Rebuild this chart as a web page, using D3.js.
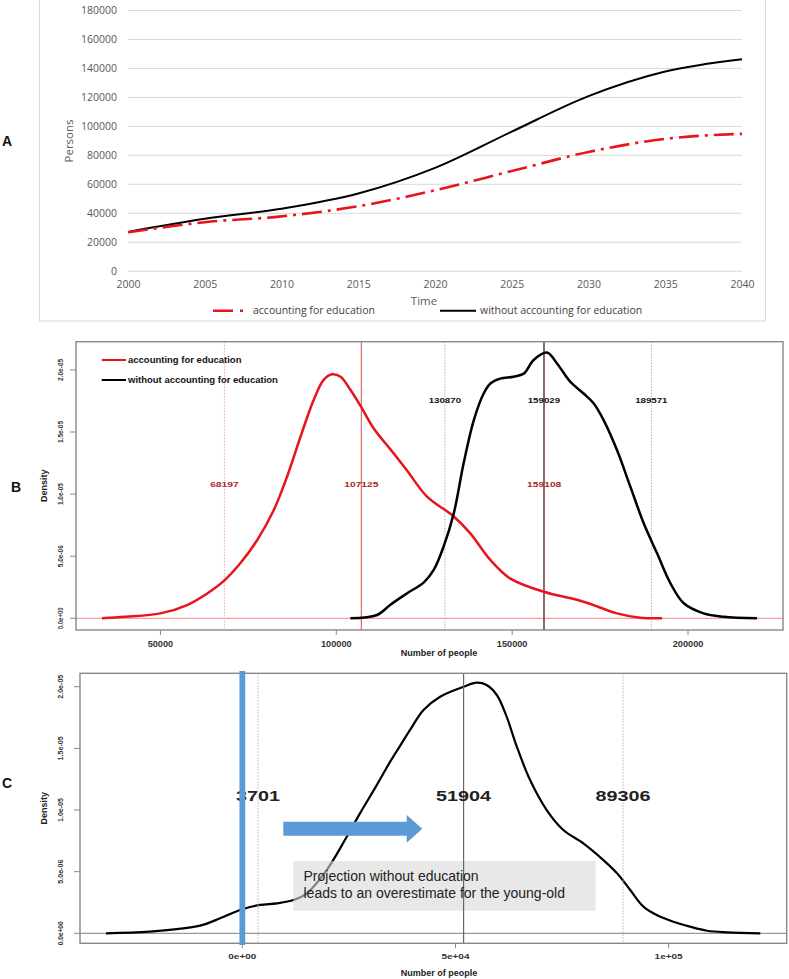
<!DOCTYPE html>
<html><head><meta charset="utf-8">
<script src="https://cdn.jsdelivr.net/npm/d3@7"></script>
<style>html,body{margin:0;padding:0;background:#fff;}svg{display:block;}</style>
</head><body>
<script>
// ---------- DATA ----------
// Panel A
const years = [2000, 2005, 2010, 2015, 2020, 2025, 2030, 2035, 2040];
const withEducation = [26500, 33500, 37500, 44500, 55500, 68800, 82000, 91000, 94500];
const withoutEducation = [26800, 35800, 42800, 53300, 71000, 96000, 120500, 137500, 146000];
const aYTicks = [0, 20000, 40000, 60000, 80000, 100000, 120000, 140000, 160000, 180000];
const seriesNames = ["accounting for education", "without accounting for education"];

// Panel B (density, values ×1e-6)
const bEduX = [33400, 40000, 50000, 57600, 63300, 67800, 72700, 77500, 82200, 86000, 89800, 93600, 96400, 98800, 101200, 104000, 106900, 110600, 115400, 120100, 125800, 133400, 138100, 143800, 149500, 159000, 170300, 179800, 186400, 192600];
const bEduY = [0, 0.12, 0.4, 1.07, 2.0, 2.95, 4.43, 6.3, 8.7, 11.4, 14.6, 17.6, 19.2, 19.65, 19.45, 18.4, 17.1, 15.3, 13.6, 11.9, 9.8, 8.2, 6.84, 4.7, 3.2, 2.14, 1.34, 0.4, 0.05, 0];
const bNoX = [104000, 111600, 115400, 120100, 124900, 127700, 130500, 133400, 136200, 139100, 141900, 143800, 146600, 150400, 153300, 156100, 159900, 162800, 166500, 170300, 173200, 176000, 179800, 183600, 187400, 191200, 195000, 198800, 204400, 210100, 219600];
const bNoY = [0, 0.27, 1.1, 2.01, 2.9, 3.9, 5.77, 8.45, 12.48, 15.96, 18.1, 18.9, 19.3, 19.45, 19.7, 20.8, 21.4, 20.5, 19.05, 18.1, 17.3, 15.96, 13.55, 10.6, 7.65, 5.23, 2.82, 1.21, 0.4, 0.13, 0];
const bEduLines = [68197, 107125, 159108];
const bNoLines = [130870, 159029, 189571];
const bXTicks = [50000, 100000, 150000, 200000];
const bXTickLabels = ["50000", "100000", "150000", "200000"];
const densTicks = [0, 5e-6, 1e-5, 1.5e-5, 2e-5];
const densTickLabels = ["0.0e+00", "5.0e-06", "1.0e-05", "1.5e-05", "2.0e-05"];

// Panel C (difference density, values ×1e-6)
const cX = [-32000, -21700, -9900, -5200, 0, 4150, 8100, 12000, 15100, 19800, 24500, 27600, 31500, 34650, 37000, 39350, 42500, 46400, 51900, 55000, 57300, 59700, 62000, 64400, 67500, 71400, 75300, 80000, 84700, 87900, 91000, 94100, 97200, 101100, 105000, 109000, 113700, 121500];
const cY = [0, 0.13, 0.62, 1.22, 1.95, 2.3, 2.43, 2.7, 3.24, 5.13, 7.83, 9.73, 12.0, 13.9, 15.2, 16.5, 18.11, 19.19, 20.0, 20.33, 20.14, 19.33, 17.57, 15.13, 12.43, 10.0, 8.38, 7.3, 5.94, 4.87, 3.51, 2.16, 1.48, 0.94, 0.54, 0.21, 0.08, 0];
const cLines = [3701, 51904, 89306];
const cXTicks = [0, 50000, 100000];
const cXTickLabels = ["0e+00", "5e+04", "1e+05"];
const noteLines = ["Projection without education", "leads to an overestimate for the young-old"];

// ---------- DRAW ----------
const W = 789, H = 979;
const svg = d3.select("body").append("svg").attr("width", W).attr("height", H);
svg.append("rect").attr("width", W).attr("height", H).attr("fill", "#fff");

const AF = "'Open Sans', sans-serif";
const RF = "'Liberation Sans', Arial, sans-serif";

// Panel letters
[["A", 2, 146], ["B", 11, 492], ["C", 2, 788]].forEach(([t, x, y]) =>
  svg.append("text").attr("x", x).attr("y", y).text(t)
    .attr("font-family", RF).attr("font-weight", "bold").attr("font-size", 14).attr("fill", "#111"));

// ===== Panel A =====
{
  const g = svg.append("g");
  g.append("rect").attr("x", 39.5).attr("y", -1).attr("width", 726).attr("height", 322)
    .attr("fill", "none").attr("stroke", "#d9d9d9");
  const x = d3.scaleLinear().domain([2000, 2040]).range([128, 742]);
  const y = d3.scaleLinear().domain([0, 180000]).range([270.7, 10]);

  const yAx = g.append("g").attr("transform", "translate(128,0)")
    .call(d3.axisLeft(y).tickValues(aYTicks).tickSize(-614).tickPadding(11).tickFormat(d3.format("d")));
  yAx.select(".domain").remove();
  yAx.selectAll("line").attr("stroke", "#d9d9d9");
  yAx.selectAll("text").attr("font-family", AF).attr("font-size", 10.5).attr("fill", "#595959");

  const xAx = g.append("g").attr("transform", "translate(0,270.7)")
    .call(d3.axisBottom(x).tickValues(years).tickSize(0).tickPadding(10).tickFormat(d3.format("d")));
  xAx.select(".domain").remove();
  xAx.selectAll("text").attr("font-family", AF).attr("font-size", 10.5).attr("fill", "#595959");

  const line = d3.line().x((d, i) => x(years[i])).y(d => y(d)).curve(d3.curveMonotoneX);
  g.append("path").attr("d", line(withoutEducation)).attr("fill", "none")
    .attr("stroke", "#000").attr("stroke-width", 2);
  g.append("path").attr("d", line(withEducation)).attr("fill", "none")
    .attr("stroke", "#e8141c").attr("stroke-width", 2.6).attr("stroke-dasharray", "20,6,3,6");

  g.append("text").attr("x", 424).attr("y", 304.5).attr("text-anchor", "middle").text("Time")
    .attr("font-family", AF).attr("font-size", 11.5).attr("fill", "#595959");
  g.append("text").attr("transform", "translate(73,141) rotate(-90)").attr("text-anchor", "middle").text("Persons")
    .attr("font-family", AF).attr("font-size", 11.5).attr("fill", "#595959");

  // legend
  g.append("line").attr("x1", 213).attr("x2", 246).attr("y1", 310.7).attr("y2", 310.7)
    .attr("stroke", "#e8141c").attr("stroke-width", 2.6).attr("stroke-dasharray", "20,7,3,6");
  g.append("text").attr("x", 253).attr("y", 314).text(seriesNames[0])
    .attr("font-family", AF).attr("font-size", 10.5).attr("fill", "#404040");
  g.append("line").attr("x1", 440).attr("x2", 476).attr("y1", 310.7).attr("y2", 310.7)
    .attr("stroke", "#000").attr("stroke-width", 2);
  g.append("text").attr("x", 480).attr("y", 314).text(seriesNames[1])
    .attr("font-family", AF).attr("font-size", 10.5).attr("fill", "#404040");
}

function densityAxes(g, x, y, box, xTicks, xLabels, xLabelY, xTitleY, stretch) {
  densTicks.forEach((t, i) => {
    g.append("line").attr("x1", box.x0 - 6).attr("x2", box.x0).attr("y1", y(t)).attr("y2", y(t))
      .attr("stroke", "#888").attr("stroke-width", 1);
    g.append("text").attr("transform", `translate(63,${y(t)}) rotate(-90)`).attr("text-anchor", "middle")
      .text(densTickLabels[i]).attr("font-family", RF).attr("font-weight", "bold").attr("font-size", 7.4).attr("fill", "#333")
      .attr("textLength", stretch ? 24 : 22).attr("lengthAdjust", "spacingAndGlyphs");
  });
  xTicks.forEach((t, i) => {
    g.append("line").attr("x1", x(t)).attr("x2", x(t)).attr("y1", box.y1).attr("y2", box.y1 + 5)
      .attr("stroke", "#888").attr("stroke-width", 1);
    const tx = g.append("text").attr("x", x(t)).attr("y", xLabelY).attr("text-anchor", "middle")
      .text(xLabels[i]).attr("font-family", RF).attr("font-weight", "bold").attr("fill", "#333");
    if (stretch) tx.attr("font-size", 7.5).attr("textLength", 28).attr("lengthAdjust", "spacingAndGlyphs");
    else tx.attr("font-size", 9.2);
  });
  g.append("text").attr("x", 439).attr("y", xTitleY).attr("text-anchor", "middle").text("Number of people")
    .attr("font-family", RF).attr("font-weight", "bold").attr("font-size", 9).attr("fill", "#222");
  g.append("text").attr("transform", `translate(47,${(box.y0 + box.y1) / 2}) rotate(-90)`).attr("text-anchor", "middle")
    .text("Density").attr("font-family", RF).attr("font-weight", "bold").attr("font-size", 9).attr("fill", "#222");
}

// ===== Panel B =====
{
  const g = svg.append("g");
  const box = {x0: 76, x1: 783, y0: 341.7, y1: 630};
  const x = d3.scaleLinear().domain([26000, 227000]).range([box.x0, box.x1]);
  const y = d3.scaleLinear().domain([-0.94e-6, 2.227e-5]).range([box.y1, box.y0]);

  g.append("line").attr("x1", box.x0).attr("x2", box.x1).attr("y1", y(0)).attr("y2", y(0))
    .attr("stroke", "#f2a0a0").attr("stroke-width", 1.2);
  bEduLines.forEach((v, i) => {
    g.append("line").attr("x1", x(v)).attr("x2", x(v)).attr("y1", box.y0).attr("y2", box.y1)
      .attr("stroke", i === 0 ? "#f2aaaa" : "#e06a6a").attr("stroke-width", i === 0 ? 1 : 1.2)
      .attr("stroke-dasharray", i === 0 ? "1.5,1.5" : null);
  });
  bNoLines.forEach((v, i) => {
    g.append("line").attr("x1", x(v)).attr("x2", x(v)).attr("y1", box.y0).attr("y2", box.y1)
      .attr("stroke", i === 1 ? "#5a4c4c" : "#b0b0b0").attr("stroke-width", i === 1 ? 1.3 : 1)
      .attr("stroke-dasharray", i === 1 ? null : "1.5,1.5");
  });

  const line = d3.line().curve(d3.curveCatmullRom.alpha(0.5));
  g.append("path").attr("d", line(bEduX.map((v, i) => [x(v), y(bEduY[i] * 1e-6)])))
    .attr("fill", "none").attr("stroke", "#e8141c").attr("stroke-width", 2.5);
  g.append("path").attr("d", line(bNoX.map((v, i) => [x(v), y(bNoY[i] * 1e-6)])))
    .attr("fill", "none").attr("stroke", "#000").attr("stroke-width", 2.5);

  bEduLines.forEach(v => g.append("text").attr("x", x(v)).attr("y", 487).attr("text-anchor", "middle")
    .text(String(v)).attr("font-family", RF).attr("font-weight", "bold").attr("font-size", 7.8)
    .attr("fill", "#a8282a").attr("textLength", String(v).length * 5.7).attr("lengthAdjust", "spacingAndGlyphs"));
  bNoLines.forEach(v => g.append("text").attr("x", x(v)).attr("y", 402.5).attr("text-anchor", "middle")
    .text(String(v)).attr("font-family", RF).attr("font-weight", "bold").attr("font-size", 7.8)
    .attr("fill", "#111").attr("textLength", String(v).length * 5.4).attr("lengthAdjust", "spacingAndGlyphs"));

  // legend
  g.append("line").attr("x1", 101.7).attr("x2", 126).attr("y1", 360).attr("y2", 360).attr("stroke", "#e8141c").attr("stroke-width", 2);
  g.append("line").attr("x1", 101.7).attr("x2", 126).attr("y1", 380).attr("y2", 380).attr("stroke", "#000").attr("stroke-width", 2);
  g.append("text").attr("x", 128).attr("y", 363.3).text(seriesNames[0]).attr("font-family", RF)
    .attr("font-weight", "bold").attr("font-size", 9.5).attr("fill", "#111");
  g.append("text").attr("x", 128).attr("y", 383.3).text(seriesNames[1]).attr("font-family", RF)
    .attr("font-weight", "bold").attr("font-size", 9.5).attr("fill", "#111");

  g.append("rect").attr("x", box.x0).attr("y", box.y0).attr("width", box.x1 - box.x0).attr("height", box.y1 - box.y0)
    .attr("fill", "none").attr("stroke", "#888").attr("stroke-width", 1.4);
  densityAxes(g, x, y, box, bXTicks, bXTickLabels, 647, 655.5, false);
}

// ===== Panel C =====
{
  const g = svg.append("g");
  const box = {x0: 80, x1: 786.7, y0: 673.3, y1: 943.3};
  const x = d3.scaleLinear().domain([-38080, 127700]).range([box.x0, box.x1]);
  const y = d3.scaleLinear().domain([-0.811e-6, 2.109e-5]).range([box.y1, box.y0]);

  g.append("line").attr("x1", box.x0).attr("x2", box.x1).attr("y1", y(0)).attr("y2", y(0))
    .attr("stroke", "#999").attr("stroke-width", 1.2);

  const line = d3.line().curve(d3.curveCatmullRom.alpha(0.5));
  g.append("path").attr("d", line(cX.map((v, i) => [x(v), y(cY[i] * 1e-6)])))
    .attr("fill", "none").attr("stroke", "#000").attr("stroke-width", 2.2);

  g.append("rect").attr("x", 293.3).attr("y", 861).attr("width", 302.4).attr("height", 49.7)
    .attr("fill", "#d8d8d8").attr("opacity", 0.6);

  cLines.forEach((v, i) => {
    g.append("line").attr("x1", x(v)).attr("x2", x(v)).attr("y1", box.y0).attr("y2", box.y1)
      .attr("stroke", i === 1 ? "#666" : "#b5b5b5").attr("stroke-width", i === 1 ? 1.2 : 1)
      .attr("stroke-dasharray", i === 1 ? null : "1.5,1.5");
  });

  cLines.forEach(v => g.append("text").attr("x", x(v)).attr("y", 800.7).attr("text-anchor", "middle")
    .text(String(v)).attr("font-family", RF).attr("font-weight", "bold").attr("font-size", 14.5)
    .attr("fill", "#222").attr("textLength", String(v).length * 11).attr("lengthAdjust", "spacingAndGlyphs"));

  noteLines.forEach((t, i) => g.append("text").attr("x", 303.5).attr("y", 880.5 + i * 17).text(t)
    .attr("font-family", RF).attr("font-size", 14).attr("fill", "#222"));

  g.append("path").attr("d", "M283.3,821.7 L406.7,821.7 L406.7,815 L422.3,828.7 L406.7,842.7 L406.7,835.7 L283.3,835.7 Z")
    .attr("fill", "#5b9bd5");

  g.append("rect").attr("x", box.x0).attr("y", box.y0).attr("width", box.x1 - box.x0).attr("height", box.y1 - box.y0)
    .attr("fill", "none").attr("stroke", "#888").attr("stroke-width", 1.4);

  g.append("line").attr("x1", x(0)).attr("x2", x(0)).attr("y1", 671).attr("y2", 945)
    .attr("stroke", "#5b9bd5").attr("stroke-width", 5.8);

  densityAxes(g, x, y, box, cXTicks, cXTickLabels, 959, 976, true);
}
</script>
</body></html>
